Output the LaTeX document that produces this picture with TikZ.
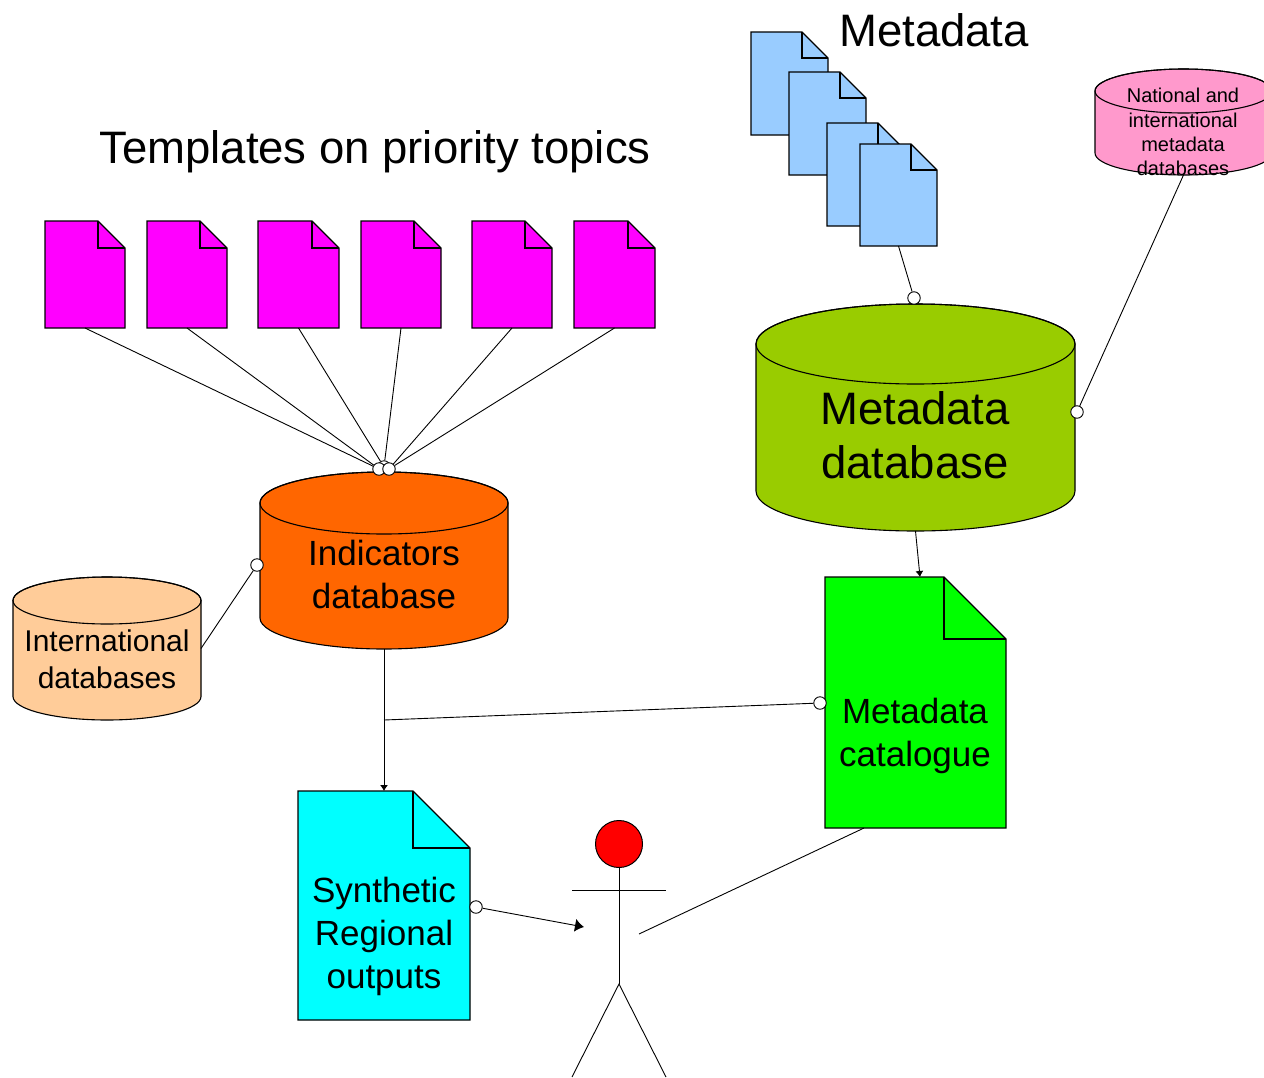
\documentclass[tikz,border=0pt]{standalone}
\usepackage{fontspec}
\setmainfont{Liberation Sans}
\usetikzlibrary{arrows.meta,fit}

\definecolor{templatecol}{HTML}{FF00FF}
\definecolor{metafilecol}{HTML}{99CCFF}
\definecolor{indicatorcol}{HTML}{FF6600}
\definecolor{metabasecol}{HTML}{99CC00}
\definecolor{interncol}{HTML}{FFCC99}
\definecolor{nationalcol}{HTML}{FF99CC}
\definecolor{cataloguecol}{HTML}{00FF00}
\definecolor{syntheticcol}{HTML}{00FFFF}

\tikzset{
    shapeline/.style={draw=black, line width=1.1pt},
    link/.style={draw=black, line width=0.9pt},
    knob/.style={circle, draw=black, line width=0.9pt, fill=white, inner sep=0pt, minimum size=12.5pt},
    anchorbox/.style={inner sep=0pt, outer sep=0pt},
    hugetext/.style={font=\fontsize{45.5}{54}\selectfont, align=center, inner sep=0pt},
    bigtext/.style={font=\fontsize{35}{43}\selectfont, align=center, inner sep=0pt},
    midtext/.style={font=\fontsize{30}{37}\selectfont, align=center, inner sep=0pt},
    smalltext/.style={font=\fontsize{20}{24.3}\selectfont, align=center, inner sep=0pt}
}

% name, x1, y1, x2, y2, fold, colour
\newcommand{\docshape}[7]{
    \draw[shapeline, fill=#7] (#2, #3) -- ({#4-#6}, #3) -- (#4, {#3+#6}) -- (#4, #5) -- (#2, #5) -- cycle;
    \draw[shapeline] ({#4-#6}, #3) -- ({#4-#6}, {#3+#6}) -- (#4, {#3+#6});
    \coordinate (#1a) at (#2, #3);
    \coordinate (#1b) at (#4, #5);
    \node[anchorbox, fit=(#1a)(#1b)] (#1) {};
}

% name, x1, y1, x2, y2, lid height, colour
\newcommand{\dbshape}[7]{
    \pgfmathsetmacro{\midx}{(#2+#4)/2}
    \pgfmathsetmacro{\radx}{(#4-#2)/2}
    \draw[shapeline, fill=#7] (#2, {#3+#6}) -- (#2, {#5-#6})
        arc[start angle=180, end angle=0, x radius=\radx, y radius=#6]
        -- (#4, {#3+#6})
        arc[start angle=0, end angle=-180, x radius=\radx, y radius=#6] -- cycle;
    \draw[shapeline] (\midx, {#3+#6}) ellipse [x radius=\radx, y radius=#6];
    \coordinate (#1a) at (#2, #3);
    \coordinate (#1b) at (#4, #5);
    \node[anchorbox, fit=(#1a)(#1b)] (#1) {};
}

\begin{document}
\begin{tikzpicture}[x=1pt, y=-1pt]
    \useasboundingbox (0, 0) rectangle (1264, 1077);

    % titles
    \node[hugetext] (templatestitle) at (375, 152) {Templates on priority topics};
    \node[hugetext] (metadatatitle) at (934, 30) {Metadata};

    % template files
    \docshape{tplone}{45}{221}{125}{328}{27}{templatecol}
    \docshape{tpltwo}{147}{221}{227}{328}{27}{templatecol}
    \docshape{tplthree}{258}{221}{339}{328}{27}{templatecol}
    \docshape{tplfour}{361}{221}{441}{328}{27}{templatecol}
    \docshape{tplfive}{472}{221}{552}{328}{27}{templatecol}
    \docshape{tplsix}{574}{221}{655}{328}{27}{templatecol}

    % metadata files
    \docshape{metaone}{751}{32}{828}{135}{26}{metafilecol}
    \docshape{metatwo}{789}{72}{866}{175}{26}{metafilecol}
    \docshape{metathree}{827}{123}{904}{226}{26}{metafilecol}
    \docshape{metafour}{860}{144}{937}{246}{26}{metafilecol}

    % databases
    \dbshape{indicators}{260}{472}{508}{649}{31}{indicatorcol}
    \dbshape{international}{13}{577}{201}{720}{23.5}{interncol}
    \dbshape{metabase}{756}{304}{1075}{531}{40}{metabasecol}
    \dbshape{national}{1095}{69}{1272}{175}{22}{nationalcol}

    % outputs
    \docshape{catalogue}{825}{577}{1006}{828}{62}{cataloguecol}
    \docshape{synthetic}{298}{791}{470}{1020}{57}{syntheticcol}

    \node[bigtext] (indicatorstext) at (384, 574) {Indicators\\database};
    \node[midtext] (internationaltext) at (107, 659) {International\\databases};
    \node[hugetext] (metabasetext) at (915, 435) {Metadata\\database};
    \node[smalltext] (nationaltext) at (1183, 132) {National and\\international\\metadata\\databases};
    \node[bigtext] (cataloguetext) at (915, 736) {Metadata\\catalogue};
    \node[bigtext] (synthetictext) at (384, 936) {Synthetic\\Regional\\outputs};

    % person
    \node[circle, draw=black, line width=1pt, fill=red, inner sep=0pt, minimum size=47pt] (head) at (619, 844) {};
    \coordinate (hip) at (619, 984);
    \coordinate (armleft) at (572, 890);
    \coordinate (armright) at (666, 890);
    \coordinate (footleft) at (572, 1077);
    \coordinate (footright) at (666, 1077);
    \draw[link] (head) -- (hip);
    \draw[link] (armleft) -- (armright);
    \draw[link] (footleft) -- (hip) -- (footright);

    % joints
    \node[knob] (topjoint) at (384, 467) {};
    \node[knob] (leftjoint) at (379, 469) {};
    \node[knob] (rightjoint) at (389, 469) {};
    \node[knob] (internjoint) at (257, 565) {};
    \node[knob] (metatopjoint) at (914, 298) {};
    \node[knob] (nationaljoint) at (1077, 412) {};
    \node[knob] (cataloguejoint) at (820, 703) {};
    \node[knob] (outputjoint) at (476, 907) {};

    \coordinate (split) at (384, 720);
    \coordinate (catalogueentry) at (920, 577);
    \coordinate (cataloguefoot) at (864, 828);
    \coordinate (personleft) at (584, 927);
    \coordinate (personright) at (639, 934);

    % connectors
    \draw[link] (tplone.south) -- (leftjoint);
    \draw[link] (tpltwo.south) -- (leftjoint);
    \draw[link] (tplthree.south) -- (topjoint);
    \draw[link] (tplfour.south) -- (topjoint);
    \draw[link] (tplfive.south) -- (rightjoint);
    \draw[link] (tplsix.south) -- (rightjoint);
    \draw[link] (international.east) -- (internjoint);
    \draw[link] (metafour.south) -- (metatopjoint);
    \draw[link] (national.south) -- (nationaljoint);
    \draw[link, -{Latex[length=6pt, width=8pt]}] (metabase.south) -- (catalogueentry);
    \draw[link, -{Latex[length=6pt, width=8pt]}] (indicators.south) -- (synthetic.north -| indicators.south);
    \draw[link] (split) -- (cataloguejoint);
    \draw[link, -{Latex[length=9pt, width=13pt]}] (outputjoint) -- (personleft);
    \draw[link] (cataloguefoot) -- (personright);
\end{tikzpicture}
\end{document}
